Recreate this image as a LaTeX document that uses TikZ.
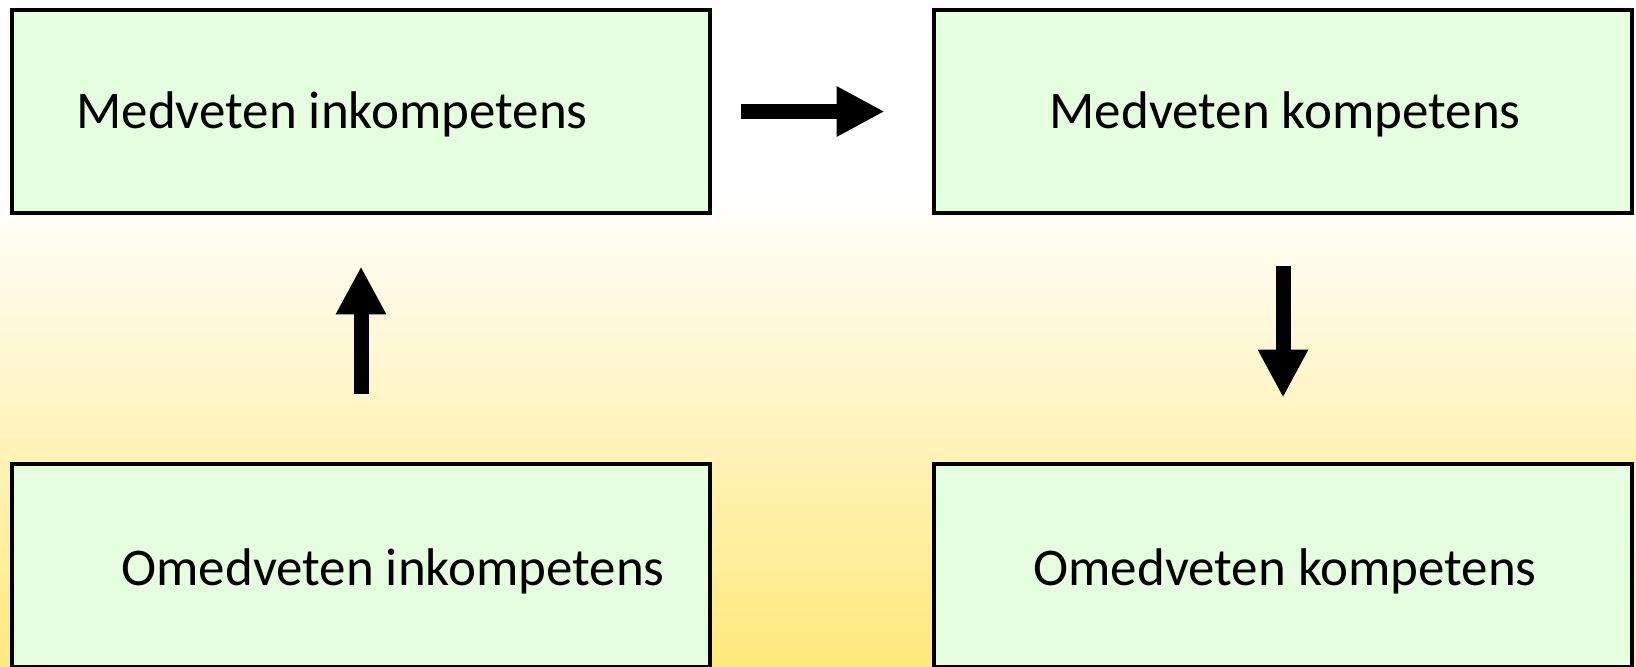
\documentclass[tikz,border=0pt]{standalone}
\usepackage{fontspec}
\setmainfont{Carlito}
\usetikzlibrary{arrows.meta}
\definecolor{boxgreen}{RGB}{230,254,224}
\definecolor{bgyellow}{RGB}{255,233,125}
\tikzset{
  box/.style={draw, line width=2.4pt, fill=boxgreen, minimum width=349pt, minimum height=101.5pt},
  txt/.style={font=\fontsize{26.5}{32}\selectfont},
  pfeil/.style={line width=7.5pt, -{Triangle[width=23.5pt,length=24pt]}}
}
\begin{document}
\begin{tikzpicture}
    \useasboundingbox (0,0) rectangle (818pt,-333pt);
    \fill[white] (0,0) rectangle (818pt,-333pt);
    \shade[top color=white, bottom color=bgyellow] (0,-95pt) rectangle (818pt,-333pt);
    \node[box] (mik) at (180.5pt,-55.75pt)          {};
    \node[box] (mko) at ([shift={(461pt,0)}]    mik) {};
    \node[box] (oik) at ([shift={(0,-227pt)}]   mik) {};
    \node[box] (oko) at ([shift={(461pt,0)}]    oik) {};
    \node[txt] (mikt) at ([shift={(-14.5pt,-1.5pt)}] mik) {Medveten inkompetens};
    \node[txt] (mkot) at ([shift={(1pt,-1.5pt)}]     mko) {Medveten kompetens};
    \node[txt] (oikt) at ([shift={(16pt,-3pt)}]      oik) {Omedveten inkompetens};
    \node[txt] (okot) at ([shift={(1pt,-3pt)}]       oko) {Omedveten kompetens};
    \draw [pfeil, shorten <=14.5pt, shorten >=23.5pt] (mik) to (mko);
    \draw [pfeil, shorten <=34pt, shorten >=25.5pt] (oik) to (mik);
    \draw [pfeil, shorten <=25.5pt, shorten >=32pt] (mko) to (oko);
  \end{tikzpicture}
\end{document}
